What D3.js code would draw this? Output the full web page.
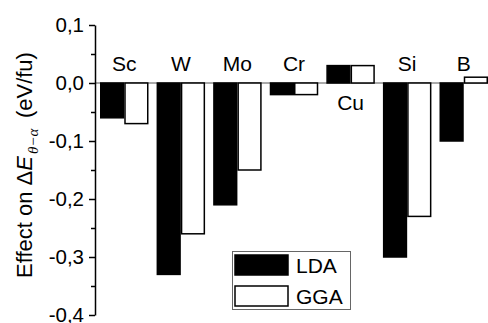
<!DOCTYPE html>
<html>
<head>
<meta charset="utf-8">
<script src="https://cdn.jsdelivr.net/npm/d3@7"></script>
<style>
  body { margin: 0; background: #fff; }
  svg { display: block; font-family: "Liberation Sans", Arial, sans-serif; }
</style>
</head>
<body>
<div id="chart"></div>
<script>
/* DATA */
const categories = ["Sc", "W", "Mo", "Cr", "Cu", "Si", "B"];
const series = ["LDA", "GGA"];
const ldaValues = [-0.06, -0.33, -0.21, -0.02, 0.03, -0.30, -0.10];
const ggaValues = [-0.07, -0.26, -0.15, -0.02, 0.03, -0.23, 0.01];
const yTicks = [0.1, 0.0, -0.1, -0.2, -0.3, -0.4];
const yMinorTicks = [0.05, -0.05, -0.15, -0.25, -0.35];

const width = 488, height = 323;

const svg = d3.select("#chart").append("svg")
  .attr("width", width)
  .attr("height", height);

// scales
const yScale = d3.scaleLinear().domain([-0.4, 0.1]).range([315, 25]);
const xScale = d3.scaleBand().domain(categories).range([100, 488]).paddingInner(0.143).paddingOuter(0);
const xInner = d3.scaleBand().domain(series).range([0, xScale.bandwidth()]);
const fill = { LDA: "#000", GGA: "#fff" };

// zero line
svg.append("line")
  .attr("x1", 95).attr("x2", 488)
  .attr("y1", yScale(0)).attr("y2", yScale(0))
  .attr("stroke", "#555").attr("stroke-width", 1);

// bars
const rows = categories.map((c, i) => ({ cat: c, LDA: ldaValues[i], GGA: ggaValues[i] }));
const groups = svg.selectAll(".grp")
  .data(rows)
  .join("g")
  .attr("class", "grp")
  .attr("transform", d => `translate(${xScale(d.cat)},0)`);

groups.selectAll("rect")
  .data(d => series.map(s => ({ s, v: d[s] })))
  .join("rect")
  .attr("x", d => xInner(d.s) + 0.75)
  .attr("width", xInner.bandwidth() - 1.5)
  .attr("y", d => Math.min(yScale(d.v), yScale(0)))
  .attr("height", d => Math.abs(yScale(d.v) - yScale(0)))
  .attr("fill", d => fill[d.s])
  .attr("stroke", "#000")
  .attr("stroke-width", 1.5);

// category labels
svg.selectAll(".cat")
  .data(rows)
  .join("text")
  .attr("class", "cat")
  .attr("x", d => xScale(d.cat) + xScale.bandwidth() / 2)
  .attr("y", d => d.cat === "Cu" ? 110 : 71)
  .attr("text-anchor", "middle")
  .attr("font-size", 21)
  .text(d => d.cat);

// y axis
const fmt = v => d3.format(".1f")(v).replace("−", "-").replace(".", ",");
svg.append("g")
  .attr("transform", "translate(95,0)")
  .call(d3.axisLeft(yScale).tickValues(yMinorTicks).tickSize(4).tickFormat(""))
  .call(g => g.select(".domain").remove())
  .call(g => g.selectAll("line").attr("stroke-width", 1.5));

svg.append("g")
  .attr("transform", "translate(95,0)")
  .call(d3.axisLeft(yScale).tickValues(yTicks).tickSize(6).tickSizeOuter(0).tickPadding(5).tickFormat(fmt))
  .call(g => g.select(".domain").attr("stroke-width", 1.5))
  .call(g => g.selectAll("line").attr("stroke-width", 1.5))
  .call(g => g.selectAll("text").attr("font-size", 20.5).attr("fill", "#000")
    .attr("font-family", "Liberation Sans, Arial, sans-serif"));

// y title
const title = svg.append("text")
  .attr("transform", "translate(32,165) rotate(-90)")
  .attr("text-anchor", "middle")
  .attr("font-size", 22);
title.append("tspan").text("Effect on \u0394");
title.append("tspan").attr("font-style", "italic").text("E");
title.append("tspan").attr("font-style", "italic").attr("font-size", 15)
  .attr("font-family", "Liberation Serif, serif").attr("dy", 6).attr("dx", 2).text("\u03b8\u2212\u03b1");
title.append("tspan").attr("dy", -6).text("\u2009 (eV/fu)");

// legend
const legend = svg.append("g");
legend.append("rect")
  .attr("x", 232.5).attr("y", 251.5).attr("width", 118).attr("height", 58)
  .attr("fill", "#fff").attr("stroke", "#666").attr("stroke-width", 1);
series.forEach((s, i) => {
  legend.append("rect")
    .attr("x", 235).attr("y", 255 + i * 31).attr("width", 53).attr("height", 20)
    .attr("fill", fill[s]).attr("stroke", "#000").attr("stroke-width", 1.5);
  legend.append("text")
    .attr("x", 296).attr("y", 273 + i * 31)
    .attr("font-size", 21)
    .text(s);
});
</script>
</body>
</html>
